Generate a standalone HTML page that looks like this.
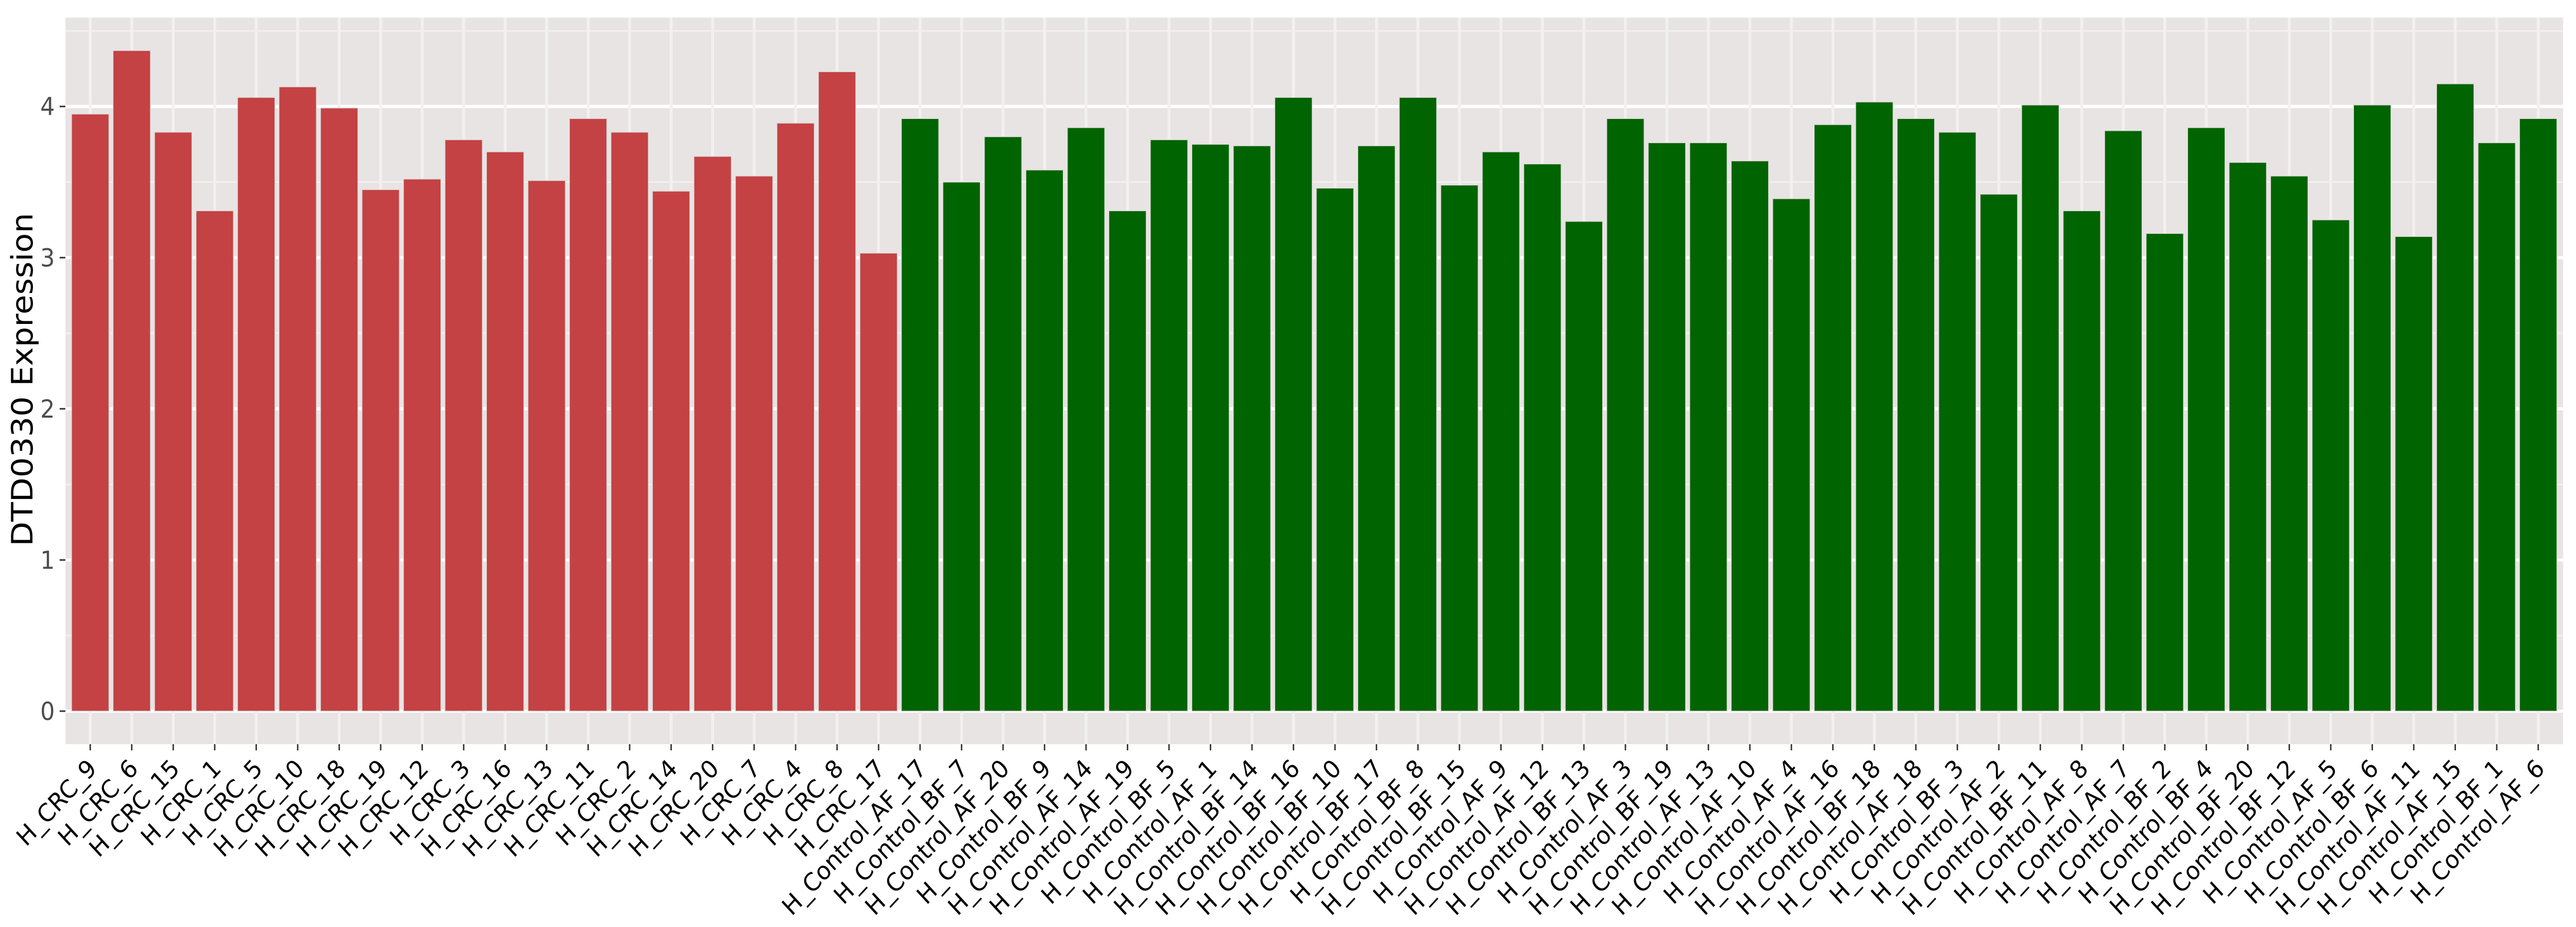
<!DOCTYPE html>
<html><head><meta charset="utf-8"><style>
html,body{margin:0;padding:0;background:#fff;overflow:hidden;width:100%;height:100%;}
svg{display:block;width:100vw;height:100vh;font-family:"DejaVu Sans","Liberation Sans",sans-serif;}
</style></head><body>
<svg id="chart" viewBox="0 0 5400 1800" preserveAspectRatio="none" xmlns="http://www.w3.org/2000/svg">
<rect id="panel" fill="#E8E4E4"></rect>
<g id="grid"></g>
<g id="bars"></g>
<g id="yaxis"></g>
<g id="xaxis"></g>
<text x="0" y="0" transform="translate(68,737) rotate(-90)" text-anchor="middle" font-size="62" fill="#000">DTD0330 Expression</text>
</svg>
<script>
const categories = ["H_CRC_9","H_CRC_6","H_CRC_15","H_CRC_1","H_CRC_5","H_CRC_10","H_CRC_18","H_CRC_19","H_CRC_12","H_CRC_3","H_CRC_16","H_CRC_13","H_CRC_11","H_CRC_2","H_CRC_14","H_CRC_20","H_CRC_7","H_CRC_4","H_CRC_8","H_CRC_17",
"H_Control_AF_17","H_Control_BF_7","H_Control_AF_20","H_Control_BF_9","H_Control_AF_14","H_Control_AF_19","H_Control_BF_5","H_Control_AF_1","H_Control_BF_14","H_Control_BF_16","H_Control_BF_10","H_Control_BF_17","H_Control_BF_8","H_Control_BF_15","H_Control_AF_9","H_Control_AF_12","H_Control_BF_13","H_Control_AF_3","H_Control_BF_19","H_Control_AF_13","H_Control_AF_10","H_Control_AF_4","H_Control_AF_16","H_Control_BF_18","H_Control_AF_18","H_Control_BF_3","H_Control_AF_2","H_Control_BF_11","H_Control_AF_8","H_Control_AF_7","H_Control_BF_2","H_Control_BF_4","H_Control_BF_20","H_Control_BF_12","H_Control_AF_5","H_Control_BF_6","H_Control_AF_11","H_Control_AF_15","H_Control_BF_1","H_Control_AF_6"];
const values = [3.95,4.37,3.83,3.31,4.06,4.13,3.99,3.45,3.52,3.78,3.70,3.51,3.92,3.83,3.44,3.67,3.54,3.89,4.23,3.03,
3.92,3.50,3.80,3.58,3.86,3.31,3.78,3.75,3.74,4.06,3.46,3.74,4.06,3.48,3.70,3.62,3.24,3.92,3.76,3.76,3.64,3.39,3.88,4.03,3.92,3.83,3.42,4.01,3.31,3.84,3.16,3.86,3.63,3.54,3.25,4.01,3.14,4.15,3.76,3.92];
const groups = categories.map(c => c.indexOf("CRC") >= 0 ? "CRC" : "Control");
const yTicks = [0,1,2,3,4];
const yTickLabels = ["0","1","2","3","4"];

const NS = "http://www.w3.org/2000/svg";
const L = 137, R = 5373, T = 34, B = 1445;
const maxV = Math.max(...values);
const yMin = -0.05*maxV, yMax = maxV*1.05;
const y = v => B - (v - yMin)/(yMax - yMin)*(B - T);
const n = categories.length;
const step = (R - L)/(n - 1 + 1.2);
const x = i => L + step*(0.6 + i);
function mk(tag, attrs, parent){const e=document.createElementNS(NS,tag);for(const k in attrs)e.setAttribute(k,attrs[k]);parent.appendChild(e);return e;}

const panel = document.getElementById("panel");
panel.setAttribute("x",L);panel.setAttribute("y",T);panel.setAttribute("width",R-L);panel.setAttribute("height",B-T);
const grid = document.getElementById("grid");
for(let v=0.5; v<yMax; v+=1){
  const l=mk("line",{x1:L,x2:R,y1:y(v),y2:y(v),stroke:"#F2F0F0","stroke-width":3},grid);
  
  
}
yTicks.forEach(v=>{
  const l=mk("line",{x1:L,x2:R,y1:y(v),y2:y(v),stroke:"#FFFFFF","stroke-width":6},grid);
  
  
});
categories.forEach((c,i)=>{
  const l=mk("line",{x1:x(i),x2:x(i),y1:T,y2:B,stroke:"#F2F0F0","stroke-width":6},grid);
  
  
});
const bars = document.getElementById("bars");
values.forEach((v,i)=>{
  const w = step*0.9;
  const r=mk("rect",{x:x(i)-w/2,y:y(v),width:w,height:y(0)-y(v),fill:groups[i]==="CRC"?"#C44244":"#006400",stroke:"#E0D8D8","stroke-width":1.5},bars);
  
  
});
const ya = document.getElementById("yaxis");
yTicks.forEach((v,k)=>{
  const t=mk("line",{x1:L-12,x2:L,y1:y(v),y2:y(v),stroke:"#333","stroke-width":3},ya);
  
  
  const tx=mk("text",{x:L-22,y:y(v)+17,"text-anchor":"end","font-size":48,fill:"#4D4D4D"},ya);
  tx.textContent=yTickLabels[k];
  
  
});
const xa = document.getElementById("xaxis");
categories.forEach((c,i)=>{
  const t=mk("line",{x1:x(i),x2:x(i),y1:B,y2:B+12,stroke:"#333","stroke-width":3},xa);
  
  
  const tx=mk("text",{x:0,y:0,"text-anchor":"end","font-size":48,fill:"#000",transform:"translate("+(x(i)+16)+","+(B+50)+") rotate(-45)"},xa);
  tx.textContent=c;
  
  
});
</script>
</body></html>
